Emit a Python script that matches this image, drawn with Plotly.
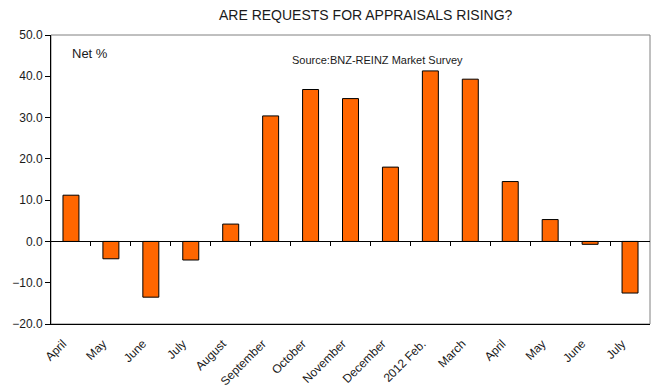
import plotly.graph_objects as go

# Monthly survey readings (net %)
months = ["April", "May", "June", "July", "August", "September", "October",
          "November", "December", "2012 Feb.", "March", "April", "May",
          "June", "July"]
net_pct = [11.2, -4.2, -13.5, -4.5, 4.2, 30.4, 36.8, 34.6, 18.0, 41.3,
           39.3, 14.5, 5.3, -0.7, -12.5]
y_ticks = [-20, -10, 0, 10, 20, 30, 40, 50]

positions = list(range(len(months)))
boundaries = [p + 0.5 for p in positions[:-1]]
# rotated month labels sit slightly left of each bar centre
label_pos = [p - 0.2 for p in positions]

font = "Liberation Sans, Arial, sans-serif"
ink = "#1a1a1a"

fig = go.Figure()
fig.add_trace(go.Bar(
    x=positions, y=net_pct,
    marker=dict(color="#FF6600", line=dict(color="black", width=1)),
    width=0.4,
    showlegend=False,
))

y_min, y_max = -20, 50
zero_frac = (0 - y_min) / (y_max - y_min)
plot_w = 653 - 51 - 3

fig.update_layout(
    width=653, height=387,
    margin=dict(l=51, r=3, t=35, b=63, autoexpand=False),
    paper_bgcolor="white", plot_bgcolor="white",
    font=dict(family=font, color=ink, size=12),
    xaxis=dict(
        range=[-0.5, len(months) - 0.5],
        tickvals=label_pos, ticktext=months,
        tickangle=-45, tickfont=dict(size=12),
        ticklabelstandoff=7, automargin=False,
        showgrid=False, zeroline=False,
        showline=True, linecolor="black", linewidth=1,
        ticks="", ticklen=0,
    ),
    # zero line with category boundary tick marks
    xaxis2=dict(
        overlaying="x", anchor="free", position=zero_frac,
        range=[-0.5, len(months) - 0.5],
        tickvals=boundaries, showticklabels=False,
        ticks="outside", ticklen=4, tickcolor="black",
        showline=True, linecolor="black", linewidth=1,
        showgrid=False, zeroline=False, automargin=False,
    ),
    yaxis=dict(
        range=[y_min, y_max], tickvals=y_ticks, tickformat=".1f",
        ticks="outside", ticklen=5, tickcolor="black",
        showline=True, linecolor="black", linewidth=1,
        showgrid=False, zeroline=False, automargin=False,
        tickfont=dict(size=12),
    ),
    shapes=[dict(type="rect", xref="paper", yref="paper", x0=0, x1=1, y0=0, y1=1,
                 line=dict(color="#808080", width=1), layer="below")],
    annotations=[
        dict(text="ARE REQUESTS FOR APPRAISALS RISING?", xref="paper", yref="paper",
             x=(366 - 51) / plot_w, y=1, yshift=20, showarrow=False,
             xanchor="center", yanchor="middle", font=dict(size=14, color=ink)),
        dict(text="Net %", xref="paper", yref="paper", x=(70 - 51) / plot_w, y=1,
             yshift=-18, showarrow=False, xanchor="left", yanchor="middle",
             font=dict(size=13, color=ink)),
        dict(text="Source:BNZ-REINZ Market Survey", xref="paper", yref="paper",
             x=(290 - 51) / plot_w, y=1, yshift=-25, showarrow=False,
             xanchor="left", yanchor="middle", font=dict(size=11, color=ink)),
    ],
)

# invisible trace so the boundary-tick axis is drawn
fig.add_trace(go.Scatter(x=[0], y=[0], xaxis="x2", mode="markers",
                         marker=dict(opacity=0), showlegend=False, hoverinfo="skip"))

fig.write_html("out.html")
